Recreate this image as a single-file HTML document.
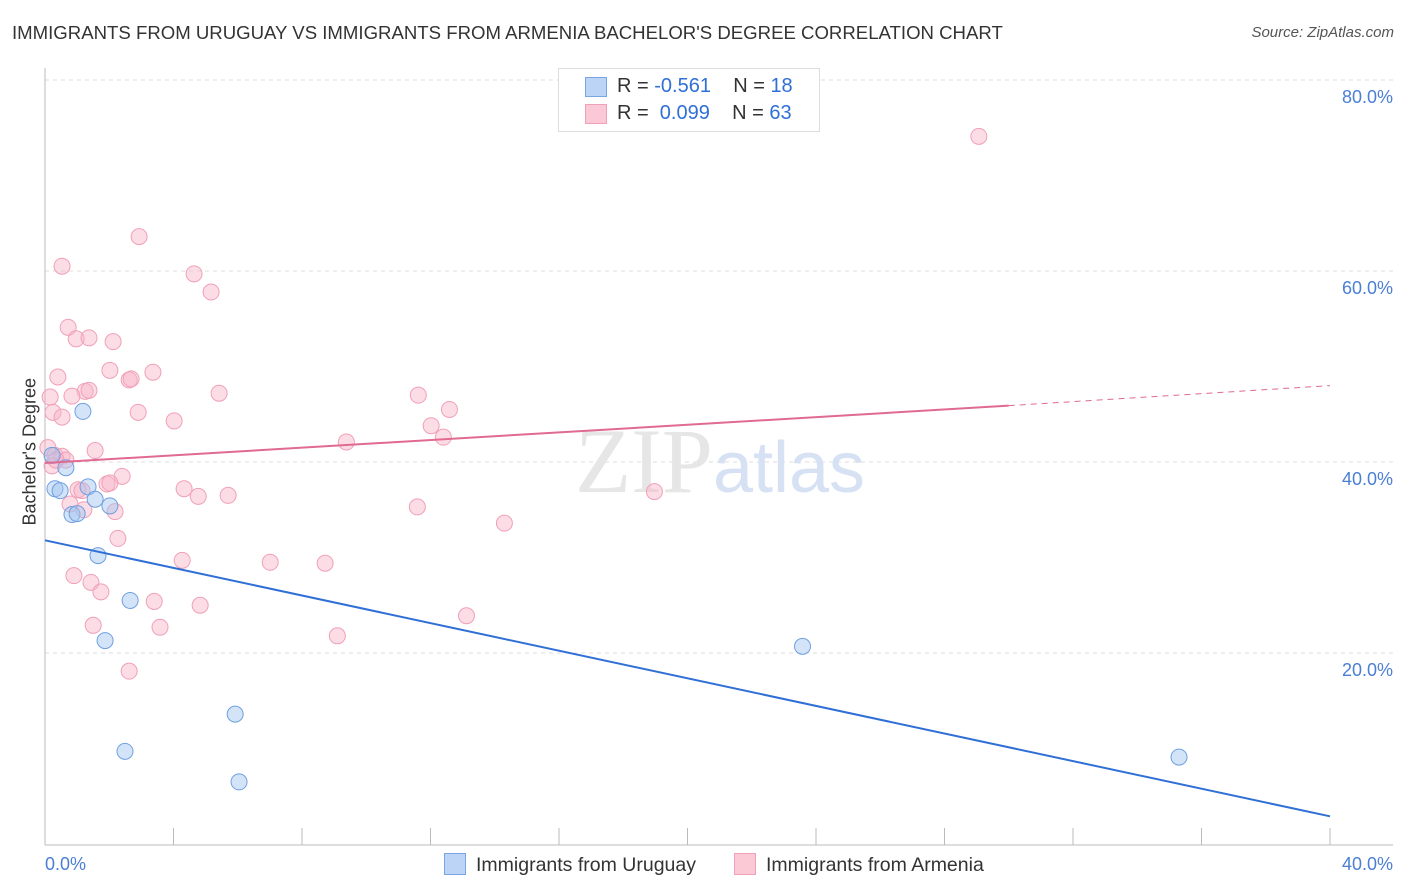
<!DOCTYPE html>
<html><head><meta charset="utf-8"><style>
body{margin:0;background:#fff;font-family:"Liberation Sans",sans-serif;}
#c{position:relative;width:1406px;height:892px;}
.t{position:absolute;white-space:nowrap;}
</style></head><body>
<div id="c">
<div class="t" style="left:12px;top:22px;font-size:18.6px;color:#333;">IMMIGRANTS FROM URUGUAY VS IMMIGRANTS FROM ARMENIA BACHELOR'S DEGREE CORRELATION CHART</div>
<div class="t" style="right:12px;top:24px;font-size:15px;color:#555;font-style:italic;">Source: ZipAtlas.com</div>
<div class="t" style="left:-40px;top:445px;font-size:18px;color:#333;transform:rotate(-90deg);width:140px;text-align:center;">Bachelor's Degree</div>
<svg id="s" width="1406" height="892" style="position:absolute;left:0;top:0"></svg>
</div>
<script>
const yTicks=[20,40,60,80];
const yTickLabels=["20.0%","40.0%","60.0%","80.0%"];
const xTickLabels=["0.0%","40.0%"];
const uruguayX=[0.22,0.31,0.47,0.65,0.84,1.0,1.18,1.34,1.56,1.65,1.87,2.02,2.49,2.65,5.92,6.04,23.58,35.3];
const uruguayY=[40.7,37.2,37.0,39.4,34.5,34.6,45.3,37.4,36.1,30.2,21.3,35.4,9.7,25.5,13.6,6.5,20.7,9.1];
const armeniaX=[29.07,2.93,0.53,4.64,5.17,0.72,0.97,1.37,2.12,0.40,2.02,3.36,2.62,2.68,1.25,1.37,0.16,0.84,5.42,11.62,0.25,0.53,2.90,4.02,12.59,12.02,12.40,9.38,0.09,1.56,0.31,0.53,0.65,0.22,2.40,1.03,1.15,1.93,2.02,4.33,4.77,5.70,18.97,0.78,1.21,2.18,11.59,14.30,2.27,4.27,7.01,8.72,0.90,1.43,1.74,3.40,4.83,13.12,1.50,3.58,9.10,2.62,0.34];
const armeniaY=[74.1,63.6,60.5,59.7,57.8,54.1,52.9,53.0,52.6,48.9,49.6,49.4,48.6,48.7,47.4,47.5,46.8,46.9,47.2,47.0,45.2,44.7,45.2,44.3,45.5,43.8,42.6,42.1,41.5,41.2,40.7,40.6,40.2,39.6,38.5,37.1,37.0,37.7,37.8,37.2,36.4,36.5,36.9,35.6,35.0,34.8,35.3,33.6,32.0,29.7,29.5,29.4,28.1,27.4,26.4,25.4,25.0,23.9,22.9,22.7,21.8,18.1,40.2];
const uruguayTrend=[31.8,2.9];
const armeniaTrend=[39.9,45.9,48.0];
const X=v=>45+v*32.125, Y=v=>844-v*9.55;
const s=document.getElementById('s'),NS='http://www.w3.org/2000/svg';
function mk(t,a,p){const e=document.createElementNS(NS,t);for(const k in a)e.setAttribute(k,a[k]);(p||s).appendChild(e);return e;}
yTicks.forEach((v,i)=>{
 const g=mk('line',{x1:45,x2:1393,y1:Y(v),y2:Y(v),stroke:'#ddd','stroke-dasharray':'4,4'});
 
 
 const t=mk('text',{x:1393,y:Y(v)+23,'text-anchor':'end','font-size':18,fill:'#4a7fd4'});t.textContent=yTickLabels[i];
 
 
});
const ax=mk('line',{x1:45,x2:45,y1:68,y2:845,stroke:'#bbb'});


const bx=mk('line',{x1:45,x2:1393,y1:845,y2:845,stroke:'#bbb'});


for(let i=0;i<=10;i++){const l=mk('line',{x1:45+i*128.5,x2:45+i*128.5,y1:828,y2:845,stroke:'#bbb'});
 
 }
[[0,'start',45],[1,'end',1393]].forEach(([i,a,x])=>{const t=mk('text',{x:x,y:870,'text-anchor':a,'font-size':18,fill:'#4a7fd4'});t.textContent=xTickLabels[i];
 
 });
const wm=mk('text',{x:720,y:492,'text-anchor':'middle','font-size':92,fill:'#e6e6e6','font-family':'Liberation Serif'});wm.innerHTML='ZIP<tspan fill="#d6e2f4" font-family="Liberation Sans" font-size="72">atlas</tspan>';


armeniaX.forEach((x,i)=>{const c=mk('circle',{cx:X(x),cy:Y(armeniaY[i]),r:8,fill:'rgba(248,180,200,0.45)',stroke:'#f0a0b8','stroke-width':1});
 
 });
uruguayX.forEach((x,i)=>{const c=mk('circle',{cx:X(x),cy:Y(uruguayY[i]),r:8,fill:'rgba(160,195,240,0.45)',stroke:'#6f9fe0','stroke-width':1});
 
 });
const bl=mk('line',{x1:X(0),y1:Y(uruguayTrend[0]),x2:X(40),y2:Y(uruguayTrend[1]),stroke:'#2f6fd6','stroke-width':2});


const pl=mk('line',{x1:X(0),y1:Y(armeniaTrend[0]),x2:X(30),y2:Y(armeniaTrend[1]),stroke:'#e06a90','stroke-width':2});


const pd=mk('line',{x1:X(30),y1:Y(armeniaTrend[1]),x2:X(40),y2:Y(armeniaTrend[2]),stroke:'#e06a90','stroke-width':1,'stroke-dasharray':'6,5'});


</script>
<div style="position:absolute;left:558px;top:68px;width:260px;height:62px;border:1px solid #ddd;background:#fff;font-size:20px;color:#333;">
 <div style="position:absolute;left:26px;top:8px;width:20px;height:18px;background:#bcd4f6;border:1px solid #7aa4e4"></div>
 <div class="t" style="left:58px;top:6px">R = <span style="color:#2f6fd6">-0.561</span>&nbsp;&nbsp;&nbsp; N = <span style="color:#2f6fd6">18</span></div>
 <div style="position:absolute;left:26px;top:35px;width:20px;height:18px;background:#fbc8d6;border:1px solid #f0a0b8"></div>
 <div class="t" style="left:58px;top:33px">R = &nbsp;<span style="color:#2f6fd6">0.099</span>&nbsp;&nbsp;&nbsp; N = <span style="color:#2f6fd6">63</span></div>
</div>
<div style="position:absolute;left:444px;top:853px;font-size:19.5px;color:#333;white-space:nowrap">
 <span style="display:inline-block;width:20px;height:20px;background:#bcd4f6;border:1px solid #7aa4e4;vertical-align:-4px;margin-right:10px"></span>Immigrants from Uruguay</div>
<div style="position:absolute;left:734px;top:853px;font-size:19.5px;color:#333;white-space:nowrap">
 <span style="display:inline-block;width:20px;height:20px;background:#fbc8d6;border:1px solid #f0a0b8;vertical-align:-4px;margin-right:10px"></span>Immigrants from Armenia</div>
</body></html>
